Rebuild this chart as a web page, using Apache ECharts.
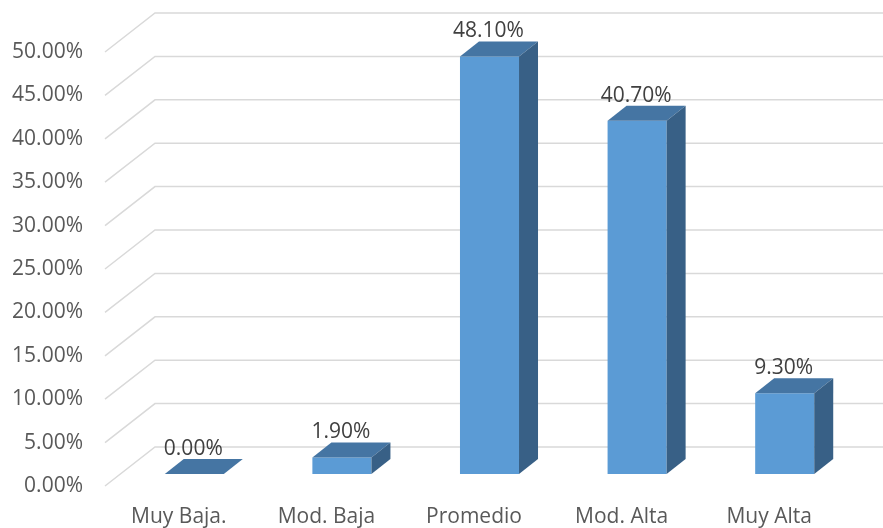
<!DOCTYPE html>
<html>
<head>
<meta charset="utf-8">
<script src="https://cdn.jsdelivr.net/npm/echarts@6/dist/echarts.min.js"></script>
<style>
  html, body { margin: 0; padding: 0; background: #fff; }
  #chart { width: 883px; height: 528px; }
</style>
</head>
<body>
<div id="chart"></div>
<script>
const categories = ['Muy Baja.', 'Mod. Baja', 'Promedio', 'Mod. Alta', 'Muy Alta']
const values = [0, 1.9, 48.1, 40.7, 9.3]
const yTicks = [0, 5, 10, 15, 20, 25, 30, 35, 40, 45, 50]

// 3d look: wall depth and bar offsets (px)
const DEPTH = [50, -39]
const BAR_SHIFT = [15.5, -12]
const BAR_DEPTH = [19, -15]

const chart = echarts.init(document.getElementById('chart'))

const gridLines = (params, api) => {
  const cs = params.coordSys
  const y = api.coord([0, api.value(1)])[1]
  const x0 = cs.x
  return {
    type: 'polyline',
    silent: true,
    shape: {
      points: [[x0, y], [x0 + DEPTH[0], y + DEPTH[1]], [api.getWidth(), y + DEPTH[1]]]
    },
    style: { stroke: '#d9d9d9', lineWidth: 1.5, fill: null }
  }
}

const bars3d = (params, api) => {
  const idx = api.value(0)
  const val = api.value(1)
  const top = api.coord([idx, val])
  const base = api.coord([idx, 0])
  const bw = api.size([1, 0])[0] * 0.4
  const fx = top[0] + BAR_SHIFT[0] - bw / 2
  const ty = top[1] + BAR_SHIFT[1]
  const by = base[1] + BAR_SHIFT[1]
  const [dx, dy] = BAR_DEPTH
  return {
    type: 'group',
    children: [
      {
        type: 'rect',
        shape: { x: fx, y: ty, width: bw, height: by - ty },
        style: { fill: '#5b9bd5' }
      },
      {
        type: 'polygon',
        shape: { points: [[fx, ty], [fx + bw, ty], [fx + bw + dx, ty + dy], [fx + dx, ty + dy]] },
        style: { fill: '#4575a3' }
      },
      {
        type: 'polygon',
        shape: { points: [[fx + bw, ty], [fx + bw + dx, ty + dy], [fx + bw + dx, by + dy], [fx + bw, by]] },
        style: { fill: '#386086' }
      },
      {
        type: 'text',
        style: {
          x: fx + bw / 2 - 1,
          y: ty + dy - 10,
          text: val.toFixed(2) + '%',
          align: 'center',
          verticalAlign: 'middle',
          fill: '#404040',
          font: '21px "Open Sans"'
        }
      }
    ]
  }
}

const option = {
  animation: false,
  grid: { left: 105, right: 40, top: 52, bottom: 41 },
  xAxis: {
    type: 'category',
    data: categories,
    axisLine: { show: false },
    axisTick: { show: false },
    axisLabel: {
      margin: 21,
      color: '#595959',
      fontFamily: 'Open Sans',
      fontSize: 21
    }
  },
  yAxis: {
    type: 'value',
    min: 0,
    max: 50,
    interval: 5,
    splitLine: { show: false },
    axisLine: { show: false },
    axisTick: { show: false },
    axisLabel: {
      margin: 22,
      color: '#595959',
      fontFamily: 'Open Sans',
      fontSize: 21,
      padding: [4, 0, 0, 0],
      formatter: v => v.toFixed(2) + '%'
    }
  },
  series: [
    {
      type: 'custom',
      renderItem: gridLines,
      data: yTicks.map(v => [0, v]),
      encode: { x: 0, y: 1 },
      z: 1,
      silent: true
    },
    {
      type: 'custom',
      renderItem: bars3d,
      data: values.map((v, i) => [i, v]),
      encode: { x: 0, y: 1 },
      z: 2
    }
  ]
}

chart.setOption(option)
</script>
</body>
</html>
